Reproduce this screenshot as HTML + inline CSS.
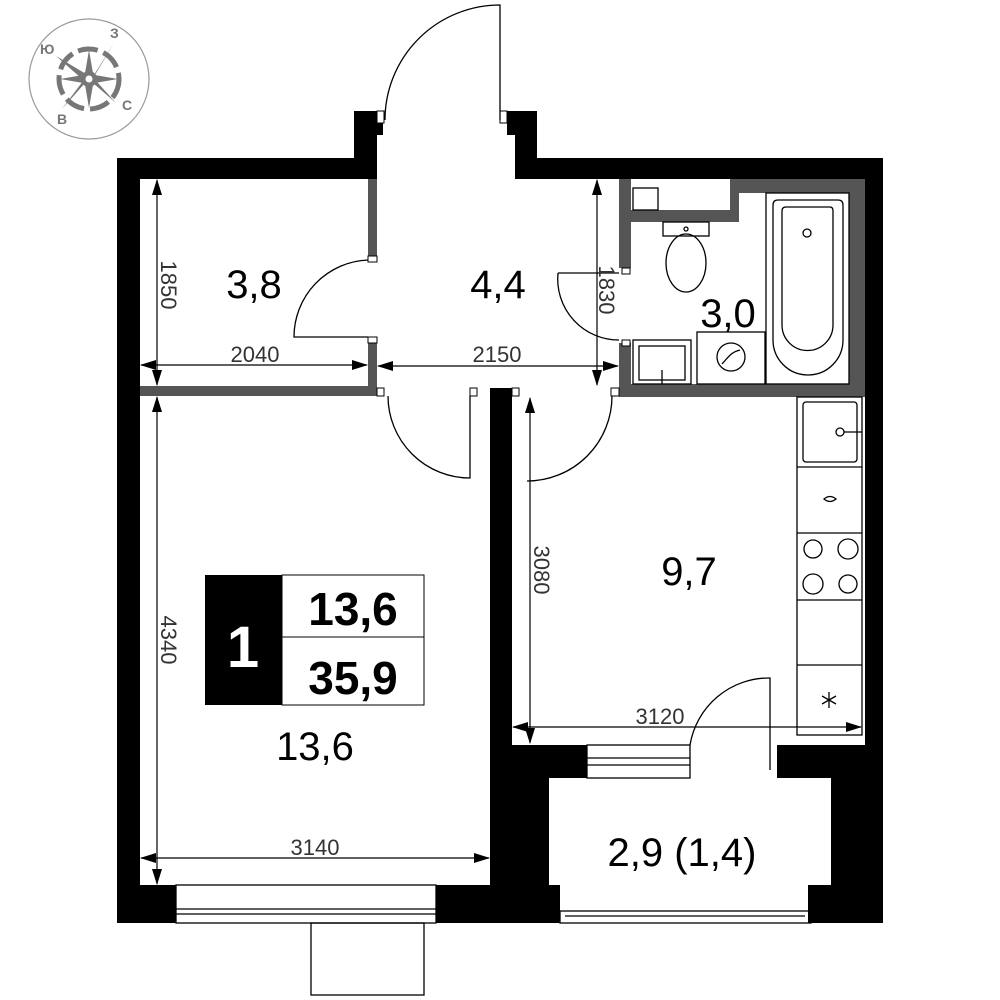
<!DOCTYPE html>
<html><head><meta charset="utf-8"><style>
html,body{margin:0;padding:0;background:#fff}
svg{display:block}
text{font-family:"Liberation Sans","DejaVu Sans",sans-serif}
</style></head><body>
<svg width="1000" height="1000" viewBox="0 0 1000 1000" xmlns="http://www.w3.org/2000/svg">
<!-- compass -->
<g stroke="#999" fill="none">
<circle cx="89" cy="79" r="60" stroke-width="1.2"/>
<circle cx="89" cy="79" r="30" stroke="#777" stroke-width="5" stroke-dasharray="20 6"/>
</g>
<g fill="#777">
<polygon points="56,56 86,74 89,85"/><polygon points="114,43 94,75 89,85"/>
<polygon points="116,103 93,83 89,73"/><polygon points="62,109 85,83 89,73"/>
<polygon points="89,50 94,79 84,79"/><polygon points="89,108 94,79 84,79"/>
<polygon points="60,79 89,74 89,84"/><polygon points="118,79 89,74 89,84"/>
<circle cx="89" cy="79" r="8"/>
</g>
<circle cx="89" cy="79" r="3.5" fill="#fff"/>
<g fill="#777" font-size="14" font-weight="bold">
<text x="40" y="54">Ю</text><text x="110" y="38">З</text><text x="122" y="110">С</text><text x="57" y="124">В</text>
</g>

<!-- black outer walls -->
<g fill="#000">
<rect x="117" y="158" width="260" height="21"/>
<rect x="354" y="111" width="23" height="68"/>
<rect x="354" y="111" width="29" height="24"/>
<rect x="515" y="135" width="22" height="44"/>
<rect x="507" y="111" width="30" height="24"/>
<rect x="537" y="158" width="346" height="21"/>
<rect x="117" y="158" width="23" height="765"/>
<rect x="865" y="158" width="18" height="620"/>
<rect x="117" y="885" width="59" height="38"/>
<rect x="436" y="885" width="124" height="38"/>
<rect x="490" y="388" width="22" height="497"/>
<rect x="490" y="745" width="59" height="178"/>
<rect x="512" y="745" width="75" height="33"/>
<rect x="777" y="745" width="106" height="33"/>
<rect x="831" y="745" width="52" height="178"/>
<rect x="808" y="885" width="75" height="38"/>
</g>
<!-- gray partitions -->
<g fill="#555">
<rect x="140" y="386" width="237" height="10"/>
<rect x="368" y="179" width="9" height="78"/>
<rect x="368" y="342" width="9" height="54"/>
<rect x="619" y="179" width="12" height="89"/>
<rect x="619" y="343" width="12" height="54"/>
<rect x="619" y="384" width="246" height="13"/>
<rect x="631" y="210" width="108" height="12"/>
<rect x="730" y="179" width="9" height="43"/>
<rect x="739" y="179" width="126" height="14"/>
<rect x="849" y="179" width="16" height="205"/>
</g>
<g fill="#fff" stroke="#000" stroke-width="1">
<rect x="368" y="256" width="9" height="6"/>
<rect x="368" y="337" width="9" height="6"/>
<rect x="377" y="388" width="7" height="8"/>
<rect x="470" y="388" width="7" height="8"/>
<rect x="512" y="388" width="7" height="8"/>
<rect x="611" y="388" width="8" height="8"/>
<rect x="622" y="268" width="8" height="6"/>
<rect x="622" y="340" width="8" height="6"/>
<rect x="377" y="111" width="7" height="12"/>
<rect x="500" y="111" width="7" height="12"/>
</g>

<!-- doors -->
<g fill="none" stroke="#000" stroke-width="1.3">
<path d="M385,120 A115,115 0 0 1 500,5 L500,120"/>
<path d="M368,260 A77,77 0 0 0 294,337 L368,337"/>
<path d="M558,273 A61,61 0 0 0 619,340"/>
<line x1="558" y1="273" x2="619" y2="273"/>
<path d="M388,396 A82,82 0 0 0 470,478 L470,396"/>
<path d="M612,396 A85,85 0 0 1 527,481"/>
<path d="M690,745 A80,80 0 0 1 770,678 L770,770"/>
<!-- windows -->
<rect x="176" y="885" width="260" height="38"/>
<line x1="176" y1="909" x2="436" y2="909"/><line x1="176" y1="914" x2="436" y2="914"/>
<rect x="311" y="923" width="113" height="72"/>
<rect x="587" y="745" width="103" height="33"/>
<line x1="587" y1="758" x2="690" y2="758"/><line x1="587" y1="765" x2="690" y2="765"/>
<rect x="560" y="911" width="251" height="12"/>
<line x1="565" y1="916" x2="805" y2="916"/>
<!-- bath fixtures -->
<rect x="633" y="188" width="25" height="22"/>
<rect x="663" y="222" width="46" height="14"/>
<ellipse cx="686" cy="263" rx="20" ry="29"/>
<rect x="633" y="340" width="58" height="44"/>
<rect x="639" y="346" width="46" height="34"/>
<line x1="662" y1="370" x2="662" y2="384"/>
<rect x="697" y="332" width="68" height="52"/>
<circle cx="731" cy="357" r="14"/>
<path d="M722,364 C730,355 732,352 740,350"/>
<rect x="766" y="193" width="83" height="191"/>
<path d="M773,205 Q773,200 778,200 L838,200 Q843,200 843,205 L843,340 A35,35 0 0 1 773,340 Z"/>
<path d="M782,211 Q782,207 786,207 L830,207 Q833,207 833,211 L833,325 A25,25 0 0 1 782,325 Z"/>
<circle cx="807" cy="233" r="4"/>
<circle cx="686" cy="229" r="2"/>
<!-- kitchen -->
<rect x="797" y="397" width="65" height="338"/>
<line x1="797" y1="467" x2="862" y2="467"/>
<line x1="797" y1="533" x2="862" y2="533"/>
<line x1="797" y1="600" x2="862" y2="600"/>
<line x1="797" y1="665" x2="862" y2="665"/>
<rect x="803" y="402" width="54" height="60" rx="3"/>
<circle cx="840" cy="432" r="4"/><line x1="844" y1="432" x2="862" y2="432"/>
<path d="M824,499 Q830,494 836,499 Q830,504 824,499Z"/>
<circle cx="813" cy="549" r="9"/><circle cx="848" cy="549" r="10"/>
<circle cx="813" cy="584" r="10"/><circle cx="848" cy="584" r="9"/>
<path d="M829,692 V708 M822,696 L836,704 M822,704 L836,696"/>
</g>

<!-- dimensions -->
<defs><marker id="a" markerWidth="16" markerHeight="10" refX="15" refY="5" orient="auto-start-reverse" markerUnits="userSpaceOnUse"><path d="M0,0 L16,5 L0,10Z" fill="#000"/></marker></defs>
<g stroke="#000" stroke-width="1.2" marker-start="url(#a)" marker-end="url(#a)">
<line x1="157" y1="180" x2="157" y2="385"/>
<line x1="141" y1="365" x2="367" y2="365"/>
<line x1="378" y1="366" x2="618" y2="366"/>
<line x1="597" y1="180" x2="597" y2="385"/>
<line x1="157" y1="397" x2="157" y2="884"/>
<line x1="141" y1="858" x2="489" y2="858"/>
<line x1="530" y1="398" x2="530" y2="743"/>
<line x1="513" y1="727" x2="861" y2="727"/>
</g>
<g fill="#333" font-size="22">
<text x="255" y="362" text-anchor="middle">2040</text>
<text x="497" y="362" text-anchor="middle">2150</text>
<text x="315" y="855" text-anchor="middle">3140</text>
<text x="660" y="724" text-anchor="middle">3120</text>
<text transform="translate(161,285) rotate(90)" text-anchor="middle">1850</text>
<text transform="translate(599,290) rotate(90)" text-anchor="middle">1830</text>
<text transform="translate(161,640) rotate(90)" text-anchor="middle">4340</text>
<text transform="translate(534,570) rotate(90)" text-anchor="middle">3080</text>
</g>
<g font-size="40" fill="#000" text-anchor="middle">
<text x="254" y="298">3,8</text>
<text x="498" y="298">4,4</text>
<text x="728" y="327">3,0</text>
<text x="689" y="585">9,7</text>
<text x="315" y="760">13,6</text>
<text x="682" y="866">2,9 (1,4)</text>
</g>
<!-- legend -->
<rect x="205" y="575" width="77" height="130" fill="#000"/>
<rect x="282" y="575" width="142" height="130" fill="#fff" stroke="#000" stroke-width="1"/>
<line x1="282" y1="637" x2="424" y2="637" stroke="#000"/>
<text x="243" y="667" font-size="58" font-weight="bold" fill="#fff" text-anchor="middle">1</text>
<text x="353" y="625" font-size="46" font-weight="bold" text-anchor="middle">13,6</text>
<text x="353" y="694" font-size="46" font-weight="bold" text-anchor="middle">35,9</text>
</svg>
</body></html>
